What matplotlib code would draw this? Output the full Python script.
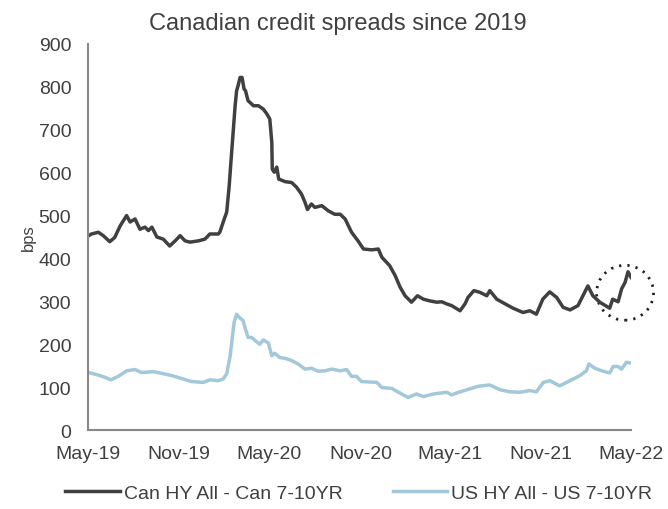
import pandas as pd
import numpy as np
import matplotlib
matplotlib.use('Agg')
import matplotlib.pyplot as plt
import matplotlib.dates as mdates
from matplotlib.patches import Ellipse

plt.rcParams['font.family'] = ['Liberation Sans', 'DejaVu Sans']

can_dates = ['2019-05-25', '2019-05-31', '2019-06-14', '2019-06-24', '2019-07-07', '2019-07-17',
             '2019-07-28', '2019-08-10', '2019-08-17', '2019-08-27', '2019-09-06', '2019-09-16',
             '2019-09-23', '2019-09-30', '2019-10-10', '2019-10-23', '2019-11-05', '2019-11-16',
             '2019-11-26', '2019-12-06', '2019-12-16', '2020-01-02', '2020-01-15', '2020-01-25',
             '2020-02-04', '2020-02-11', '2020-02-14', '2020-02-21', '2020-02-28', '2020-03-04',
             '2020-03-08', '2020-03-12', '2020-03-16', '2020-03-19', '2020-03-22', '2020-03-26',
             '2020-03-30', '2020-04-03', '2020-04-06', '2020-04-11', '2020-04-22', '2020-05-02',
             '2020-05-12', '2020-05-19', '2020-05-25', '2020-05-29', '2020-05-30', '2020-06-03',
             '2020-06-08', '2020-06-12', '2020-06-25', '2020-07-08', '2020-07-18', '2020-07-28',
             '2020-08-04', '2020-08-09', '2020-08-17', '2020-08-24', '2020-09-07', '2020-09-20',
             '2020-10-03', '2020-10-14', '2020-10-24', '2020-11-06', '2020-11-19', '2020-11-30',
             '2020-12-17', '2020-12-30', '2021-01-06', '2021-01-22', '2021-02-02', '2021-02-12',
             '2021-02-22', '2021-03-07', '2021-03-19', '2021-03-31', '2021-04-13', '2021-04-27',
             '2021-05-07', '2021-05-17', '2021-05-27', '2021-06-13', '2021-06-23', '2021-06-29',
             '2021-07-11', '2021-07-23', '2021-08-06', '2021-08-12', '2021-08-26', '2021-09-12',
             '2021-09-28', '2021-10-18', '2021-11-01', '2021-11-14', '2021-11-27', '2021-12-11',
             '2021-12-25', '2022-01-07', '2022-01-21', '2022-02-06', '2022-02-16', '2022-02-26',
             '2022-03-08', '2022-03-22', '2022-04-11', '2022-04-17', '2022-04-28', '2022-05-05',
             '2022-05-12', '2022-05-18', '2022-05-24']
can_hy = [453, 457, 461, 453, 439, 449,
          476, 500, 485, 492, 468, 473,
          465, 473, 450, 445, 429, 441,
          453, 441, 438, 441, 445, 457,
          457, 457, 461, 485, 508, 569,
          632, 694, 756, 791, 803, 822,
          822, 795, 791, 768, 756, 756,
          748, 737, 725, 671, 608, 601,
          613, 585, 579, 577, 566, 550,
          531, 514, 527, 519, 523, 511,
          503, 503, 492, 461, 441, 422,
          420, 422, 403, 383, 360, 333,
          313, 298, 313, 305, 301, 298,
          299, 294, 290, 278, 294, 309,
          325, 321, 313, 325, 305, 294,
          284, 274, 278, 270, 305, 322,
          309, 286, 280, 290, 313, 336,
          313, 298, 284, 305, 299, 329,
          344, 369, 356]

us_dates = ['2019-05-25', '2019-06-14', '2019-06-27', '2019-07-09', '2019-07-24', '2019-08-10',
            '2019-08-27', '2019-09-09', '2019-10-03', '2019-10-20', '2019-11-09', '2019-11-29',
            '2019-12-19', '2020-01-12', '2020-01-25', '2020-02-11', '2020-02-21', '2020-02-28',
            '2020-03-06', '2020-03-10', '2020-03-14', '2020-03-19', '2020-03-24', '2020-04-01',
            '2020-04-06', '2020-04-11', '2020-04-18', '2020-04-28', '2020-05-05', '2020-05-12',
            '2020-05-22', '2020-05-29', '2020-06-04', '2020-06-14', '2020-06-25', '2020-07-08',
            '2020-07-21', '2020-08-04', '2020-08-17', '2020-08-31', '2020-09-13', '2020-09-27',
            '2020-10-14', '2020-10-27', '2020-11-06', '2020-11-16', '2020-11-26', '2020-12-27',
            '2021-01-06', '2021-01-26', '2021-02-15', '2021-02-28', '2021-03-17', '2021-03-31',
            '2021-04-20', '2021-05-17', '2021-05-27', '2021-06-13', '2021-07-03', '2021-07-20',
            '2021-08-12', '2021-09-01', '2021-09-22', '2021-10-12', '2021-11-01', '2021-11-14',
            '2021-11-28', '2021-12-11', '2021-12-31', '2022-01-21', '2022-02-10', '2022-02-23',
            '2022-02-28', '2022-03-12', '2022-03-26', '2022-04-11', '2022-04-18', '2022-04-28',
            '2022-05-05', '2022-05-15', '2022-05-24']
us_hy = [134, 128, 123, 117, 125, 138,
         141, 134, 136, 132, 127, 120,
         113, 111, 117, 115, 119, 131,
         173, 212, 251, 270, 263, 255,
         235, 216, 216, 206, 200, 210,
         203, 173, 179, 169, 167, 162,
         154, 142, 144, 137, 138, 142,
         138, 141, 125, 125, 113, 111,
         99, 97, 84, 76, 84, 78,
         84, 88, 82, 89, 96, 102,
         105, 94, 89, 88, 92, 89,
         111, 115, 103, 115, 127, 138,
         154, 144, 138, 133, 148, 148,
         142, 158, 156]

tick_dates = ['2019-05-24', '2019-11-24', '2020-05-24', '2020-11-24',
              '2021-05-24', '2021-11-24', '2022-05-24']
tick_labels = ['May-19', 'Nov-19', 'May-20', 'Nov-20', 'May-21', 'Nov-21', 'May-22']

dark = '#404040'
light = '#A2C8D9'
txt = '#404040'

fig = plt.figure(figsize=(6.68, 5.10), dpi=100)
ax = fig.add_axes([0.1317, 0.1549, 0.8129, 0.7569])

ax.plot(pd.to_datetime(can_dates), can_hy, color=dark, lw=2.5, label='Can HY All - Can 7-10YR')
ax.plot(pd.to_datetime(us_dates), us_hy, color=light, lw=2.5, label='US HY All - US 7-10YR')

# dotted ring round the latest move
last = mdates.date2num(pd.Timestamp(can_dates[-1]))
ring = Ellipse((last - 12, 320), width=115, height=128, fill=False, clip_on=False,
               edgecolor='#202020', lw=2, linestyle=(0, (0.8, 2.2)))
ax.add_patch(ring)

ax.set_xlim(pd.Timestamp(tick_dates[0]), pd.Timestamp(tick_dates[-1]))
ax.set_ylim(0, 900)
ax.set_yticks(np.arange(0, 901, 100))
ax.set_xticks(pd.to_datetime(tick_dates))
ax.set_xticklabels(tick_labels)
ax.tick_params(length=0, labelsize=14, colors=txt)
ax.tick_params(axis='x', pad=11)
ax.tick_params(axis='y', pad=12)

for s in ['top', 'right']:
    ax.spines[s].set_visible(False)
for s in ['left', 'bottom']:
    ax.spines[s].set_color('#888888')
    ax.spines[s].set_linewidth(1.5)

ax.set_ylabel('bps', fontsize=12, color=txt, labelpad=2)
fig.suptitle('Canadian credit spreads since 2019', fontsize=17, color=txt, x=0.505, y=0.975)

fig.legend(loc='lower center', ncol=2, frameon=False, fontsize=14,
           bbox_to_anchor=(0.537, -0.02), handlelength=2.8, columnspacing=2.6,
           labelcolor=txt, handletextpad=0.2)

fig.savefig('out.png', dpi=100)
